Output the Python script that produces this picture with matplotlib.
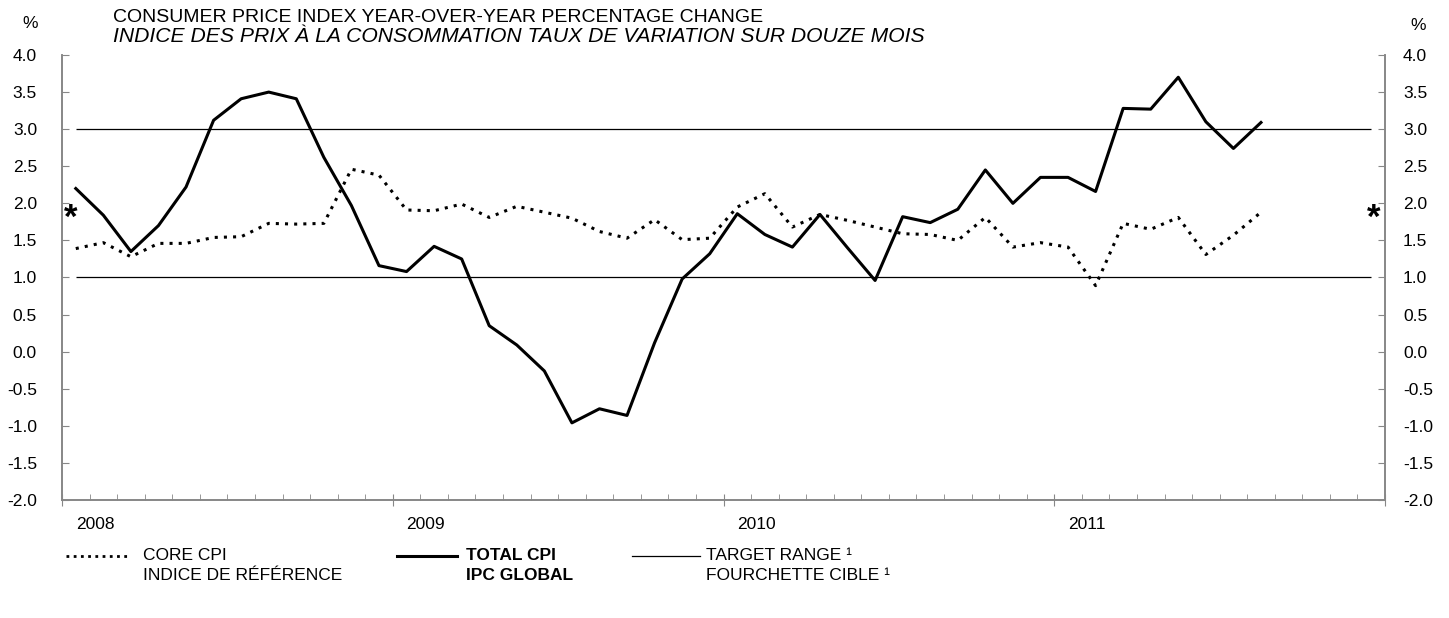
import matplotlib.pyplot as plt
import numpy as np
from matplotlib.lines import Line2D
from matplotlib.ticker import FixedLocator, FuncFormatter

plt.rcParams['font.family'] = ['Liberation Sans', 'DejaVu Sans']

# monthly values, Jan 2008 onwards
total_cpi = [2.2, 1.84, 1.35, 1.70, 2.22, 3.12, 3.41, 3.50, 3.41, 2.62, 1.97, 1.16,
             1.08, 1.42, 1.25, 0.35, 0.09, -0.26, -0.96, -0.77, -0.86, 0.12, 0.98, 1.32,
             1.86, 1.58, 1.41, 1.85, 1.40, 0.96, 1.82, 1.74, 1.92, 2.45, 2.00, 2.35,
             2.35, 2.16, 3.28, 3.27, 3.70, 3.10, 2.74, 3.09]
core_cpi = [1.39, 1.47, 1.28, 1.46, 1.46, 1.54, 1.55, 1.73, 1.72, 1.73, 2.46, 2.38,
            1.91, 1.90, 1.99, 1.81, 1.96, 1.88, 1.80, 1.62, 1.53, 1.78, 1.51, 1.53,
            1.95, 2.13, 1.68, 1.85, 1.77, 1.68, 1.59, 1.58, 1.50, 1.81, 1.41, 1.47,
            1.41, 0.89, 1.73, 1.65, 1.81, 1.31, 1.57, 1.88]
target_range = [1.0, 3.0]
years = ['2008', '2009', '2010', '2011']
n_months = 48

W, H = 1449, 618
fig = plt.figure(figsize=(W / 100, H / 100), dpi=100)
ax = fig.add_axes([62 / W, 118 / H, (1385 - 62) / W, 445 / H])

x_total = np.arange(len(total_cpi)) + 0.5
x_core = np.arange(len(core_cpi)) + 0.5

ax.hlines(target_range, 0.5, n_months - 0.5, color='black', lw=0.9)
ax.plot(x_core, core_cpi, color='black', lw=2.2, linestyle=(0, (1, 2)))
ax.plot(x_total, total_cpi, color='black', lw=2.2)

ax.set_xlim(0, n_months)
ax.set_ylim(-2, 4)

grey = '#878787'
yt = np.arange(-2, 4.01, 0.5)
fmt = FuncFormatter(lambda v, p: '%.1f' % v)

ax2 = ax.twinx()
ax2.set_ylim(-2, 4)
for a in (ax, ax2):
    for s in ['left', 'right', 'bottom']:
        a.spines[s].set_color(grey)
        a.spines[s].set_linewidth(1.2)
    a.spines['top'].set_visible(False)
    a.yaxis.set_major_locator(FixedLocator(yt))
    a.yaxis.set_major_formatter(fmt)

ax.tick_params(axis='y', which='major', direction='in', length=5, color=grey,
               labelsize=12.5, pad=18)
ax2.tick_params(axis='y', which='major', direction='in', length=5, color=grey,
                labelsize=12.5, pad=13)

ax.xaxis.set_major_locator(FixedLocator(np.arange(0, n_months + 1, 12)))
ax.xaxis.set_minor_locator(FixedLocator(np.arange(0, n_months + 1, 1)))
ax.tick_params(axis='x', which='major', direction='inout', length=9, color=grey,
               labelbottom=False)
ax.tick_params(axis='x', which='minor', direction='in', length=4, color=grey)

for i, yr in enumerate(years):
    ax.text(12 * i + 0.5, -2.33, yr, ha='left', va='center', fontsize=12.5)

# asterisks on both sides
ax.text(0.3, 1.8, '*', ha='center', va='center', fontsize=25, fontweight='bold',
        clip_on=False)
ax.text(47.6, 1.8, '*', ha='center', va='center', fontsize=25, fontweight='bold',
        clip_on=False)

def fx(px):
    return px / W

def fy(py):
    return 1 - py / H

fig.text(fx(113), fy(17), 'CONSUMER PRICE INDEX YEAR-OVER-YEAR PERCENTAGE CHANGE',
         ha='left', va='center', fontsize=14)
fig.text(fx(113), fy(37), 'INDICE DES PRIX À LA CONSOMMATION TAUX DE VARIATION SUR DOUZE MOIS',
         ha='left', va='center', fontsize=15.2, style='italic')
fig.text(fx(30), fy(23), '%', ha='center', va='center', fontsize=12.5)
fig.text(fx(1418), fy(26), '%', ha='center', va='center', fontsize=12.5)

# legend
leg_y = fy(556)
fig.add_artist(Line2D([fx(66), fx(131)], [leg_y, leg_y], color='black', lw=2.0,
                      linestyle=(0, (1, 1.6)), transform=fig.transFigure))
fig.text(fx(143), leg_y, 'CORE CPI', ha='left', va='center', fontsize=12.5)
fig.text(fx(143), fy(576), 'INDICE DE RÉFÉRENCE', ha='left', va='center', fontsize=12.5)

fig.add_artist(Line2D([fx(397), fx(457)], [leg_y, leg_y], color='black', lw=2.2,
                      transform=fig.transFigure))
fig.text(fx(466), leg_y, 'TOTAL CPI', ha='left', va='center', fontsize=12.5, fontweight='bold')
fig.text(fx(466), fy(576), 'IPC GLOBAL', ha='left', va='center', fontsize=12.5, fontweight='bold')

fig.add_artist(Line2D([fx(632), fx(700)], [leg_y, leg_y], color='black', lw=0.9,
                      transform=fig.transFigure))
fig.text(fx(706), leg_y, 'TARGET RANGE ¹', ha='left', va='center', fontsize=12.5)
fig.text(fx(706), fy(576), 'FOURCHETTE CIBLE ¹', ha='left', va='center', fontsize=12.5)

fig.savefig('out.png', dpi=100)
